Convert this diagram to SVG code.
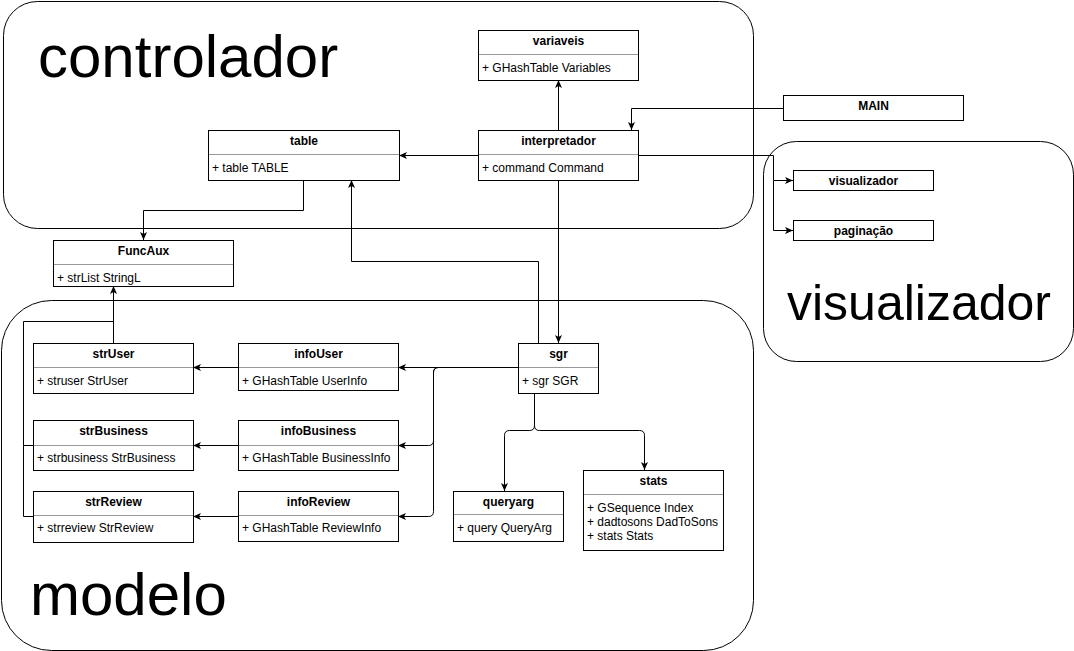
<svg xmlns="http://www.w3.org/2000/svg" width="1074" height="651" viewBox="0 0 1074 651">
<style>
.cont{fill:#fff;stroke:#000;stroke-width:1}
.big{font-family:"Liberation Sans",Arial,sans-serif;fill:#000}
.box{fill:#fff;stroke:#000;stroke-width:1}
.sep{stroke:#999;stroke-width:1}
.t{font-family:"Liberation Sans",Arial,sans-serif;font-size:12px;font-weight:bold;text-anchor:middle;fill:#000}
.a{font-family:"Liberation Sans",Arial,sans-serif;font-size:12px;fill:#000}
.c{fill:none;stroke:#000;stroke-width:1}
</style>
<defs>
<marker id="arr" markerUnits="userSpaceOnUse" viewBox="0 0 8 8" markerWidth="8" markerHeight="8" refX="8" refY="4" orient="auto">
<path d="M0,0.5 L8,4 L0,7.5 L2,4 z" fill="#000"/>
</marker>
</defs>
<rect width="1074" height="651" fill="#fff"/>

<g id="controlador">
<rect class="cont" x="3.5" y="1.5" width="750" height="227" rx="34" ry="34"/>
<text class="big" x="38" y="77" font-size="60">controlador</text>
</g>
<g id="visualizador-container">
<rect class="cont" x="763.5" y="141.5" width="310" height="220" rx="33" ry="33"/>
<text class="big" x="787" y="320" font-size="50">visualizador</text>
</g>
<g id="modelo">
<rect class="cont" x="1.5" y="300.5" width="752" height="350" rx="50" ry="50"/>
<text class="big" x="30" y="615" font-size="60">modelo</text>
</g>

<g id="connectors">
<path class="c" d="M558.5,130 L558.5,80" marker-end="url(#arr)"/>
<path class="c" d="M783,108.5 L631.5,108.5 L631.5,130" marker-end="url(#arr)"/>
<path class="c" d="M478,155.5 L399,155.5" marker-end="url(#arr)"/>
<path class="c" d="M638,155.5 L773.5,155.5 L773.5,180.5 L793,180.5" marker-end="url(#arr)"/>
<path class="c" d="M773.5,180.5 L773.5,230.5 L793,230.5" marker-end="url(#arr)"/>
<path class="c" d="M303.5,180 L303.5,210.5 L143.5,210.5 L143.5,240" marker-end="url(#arr)"/>
<path class="c" d="M558.5,180 L558.5,343" marker-end="url(#arr)"/>
<path class="c" d="M538.5,343 L538.5,261.5 L351.5,261.5 L351.5,180" marker-end="url(#arr)"/>
<path class="c" d="M113.5,343 L113.5,286" marker-end="url(#arr)"/>
<path class="c" d="M33,445.5 L23.5,445.5 L23.5,321.5 L113.5,321.5"/>
<path class="c" d="M33,516.5 L23.5,516.5 L23.5,445.5"/>
<path class="c" d="M518,367.5 L398,367.5" marker-end="url(#arr)"/>
<path class="c" d="M518,367.5 L438.5,367.5 Q433.5,367.5 433.5,372.5 L433.5,440.5 Q433.5,445.5 428.5,445.5 L398,445.5" marker-end="url(#arr)"/>
<path class="c" d="M518,367.5 L438.5,367.5 Q433.5,367.5 433.5,372.5 L433.5,511.5 Q433.5,516.5 428.5,516.5 L398,516.5" marker-end="url(#arr)"/>
<path class="c" d="M238,367.5 L193,367.5" marker-end="url(#arr)"/>
<path class="c" d="M238,445.5 L193,445.5" marker-end="url(#arr)"/>
<path class="c" d="M238,516.5 L193,516.5" marker-end="url(#arr)"/>
<path class="c" d="M534.5,393 L534.5,425.5 Q534.5,430.5 529.5,430.5 L509.5,430.5 Q504.5,430.5 504.5,435.5 L504.5,491" marker-end="url(#arr)"/>
<path class="c" d="M534.5,393 L534.5,425.5 Q534.5,430.5 539.5,430.5 L639.5,430.5 Q644.5,430.5 644.5,435.5 L644.5,470" marker-end="url(#arr)"/>
</g>

<g id="variaveis">
<rect class="box" x="478.5" y="30.5" width="160" height="50"/>
<line class="sep" x1="479" y1="54.5" x2="638" y2="54.5"/>
<text class="t" x="558.5" y="45">variaveis</text>
<text class="a" x="482" y="72">+ GHashTable Variables</text>
</g>
<g id="interpretador">
<rect class="box" x="478.5" y="130.5" width="160" height="50"/>
<line class="sep" x1="479" y1="154.5" x2="638" y2="154.5"/>
<text class="t" x="558.5" y="145">interpretador</text>
<text class="a" x="482" y="172">+ command Command</text>
</g>
<g id="table">
<rect class="box" x="208.5" y="130.5" width="191" height="50"/>
<line class="sep" x1="209" y1="154.5" x2="399" y2="154.5"/>
<text class="t" x="304" y="145">table</text>
<text class="a" x="212" y="172">+ table TABLE</text>
</g>
<g id="MAIN">
<rect class="box" x="783.5" y="95.5" width="180" height="25"/>
<text class="t" x="873.5" y="110">MAIN</text>
</g>
<g id="visualizador">
<rect class="box" x="793.5" y="170.5" width="140" height="20"/>
<text class="t" x="863.5" y="185">visualizador</text>
</g>
<g id="paginacao">
<rect class="box" x="793.5" y="220.5" width="140" height="20"/>
<text class="t" x="863.5" y="235">paginação</text>
</g>
<g id="FuncAux">
<rect class="box" x="53.5" y="240.5" width="180" height="46"/>
<line class="sep" x1="54" y1="264.5" x2="233" y2="264.5"/>
<text class="t" x="143.5" y="255">FuncAux</text>
<text class="a" x="57" y="282">+ strList StringL</text>
</g>
<g id="strUser">
<rect class="box" x="33.5" y="343.5" width="160" height="50"/>
<line class="sep" x1="34" y1="367.5" x2="193" y2="367.5"/>
<text class="t" x="113.5" y="358">strUser</text>
<text class="a" x="37" y="385">+ struser StrUser</text>
</g>
<g id="infoUser">
<rect class="box" x="238.5" y="343.5" width="160" height="47"/>
<line class="sep" x1="239" y1="367.5" x2="398" y2="367.5"/>
<text class="t" x="318.5" y="358">infoUser</text>
<text class="a" x="242" y="385">+ GHashTable UserInfo</text>
</g>
<g id="strBusiness">
<rect class="box" x="33.5" y="420.5" width="160" height="50"/>
<line class="sep" x1="34" y1="445.5" x2="193" y2="445.5"/>
<text class="t" x="113.5" y="435">strBusiness</text>
<text class="a" x="37" y="462">+ strbusiness StrBusiness</text>
</g>
<g id="infoBusiness">
<rect class="box" x="238.5" y="420.5" width="160" height="50"/>
<line class="sep" x1="239" y1="445.5" x2="398" y2="445.5"/>
<text class="t" x="318.5" y="435">infoBusiness</text>
<text class="a" x="242" y="462">+ GHashTable BusinessInfo</text>
</g>
<g id="strReview">
<rect class="box" x="33.5" y="491.5" width="160" height="51"/>
<line class="sep" x1="34" y1="515.5" x2="193" y2="515.5"/>
<text class="t" x="113.5" y="506">strReview</text>
<text class="a" x="37" y="532">+ strreview StrReview</text>
</g>
<g id="infoReview">
<rect class="box" x="238.5" y="491.5" width="160" height="50"/>
<line class="sep" x1="239" y1="515.5" x2="398" y2="515.5"/>
<text class="t" x="318.5" y="506">infoReview</text>
<text class="a" x="242" y="532">+ GHashTable ReviewInfo</text>
</g>
<g id="sgr">
<rect class="box" x="518.5" y="343.5" width="80" height="50"/>
<line class="sep" x1="519" y1="367.5" x2="598" y2="367.5"/>
<text class="t" x="558.5" y="358">sgr</text>
<text class="a" x="522" y="385">+ sgr SGR</text>
</g>
<g id="queryarg">
<rect class="box" x="453.5" y="491.5" width="110" height="50"/>
<line class="sep" x1="454" y1="514.5" x2="563" y2="514.5"/>
<text class="t" x="508.5" y="506">queryarg</text>
<text class="a" x="457" y="532">+ query QueryArg</text>
</g>
<g id="stats">
<rect class="box" x="583.5" y="470.5" width="140" height="80"/>
<line class="sep" x1="584" y1="494.5" x2="723" y2="494.5"/>
<text class="t" x="653.5" y="485">stats</text>
<text class="a" x="587" y="512">+ GSequence Index</text>
<text class="a" x="587" y="526">+ dadtosons DadToSons</text>
<text class="a" x="587" y="540">+ stats Stats</text>
</g>
</svg>
